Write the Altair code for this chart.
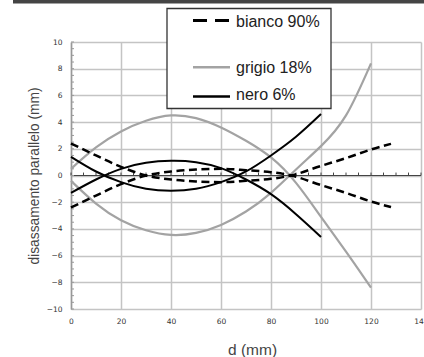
import altair as alt
import pandas as pd

# ---- data ----
x_bianco = [0, 10, 20, 30, 40, 50, 60, 70, 80, 88, 100, 110, 120, 128]
bianco_a = [2.4, 1.5, 0.65, 0.0, -0.3, -0.45, -0.5, -0.4, -0.25, 0.0, 0.72, 1.3, 1.95, 2.37]
bianco_b = [-2.4, -1.5, -0.65, 0.0, 0.3, 0.45, 0.5, 0.4, 0.25, 0.0, -0.72, -1.3, -1.95, -2.37]

x_grigio = [0, 10, 20, 30, 40, 50, 60, 70, 80, 90, 100, 110, 120]
grigio_a = [0.5, 2.1, 3.3, 4.1, 4.5, 4.3, 3.6, 2.6, 1.35, -0.55, -3.1, -5.7, -8.4]
grigio_b = [-0.4, -2.1, -3.35, -4.1, -4.45, -4.3, -3.7, -2.7, -1.3, 0.45, 2.2, 4.5, 8.4]

x_nero = [0, 10, 20, 30, 40, 50, 60, 70, 80, 90, 100]
nero_a = [1.4, 0.3, -0.5, -1.0, -1.15, -1.0, -0.5, 0.3, 1.5, 2.9, 4.6]
nero_b = [-1.3, -0.3, 0.5, 0.95, 1.1, 1.0, 0.55, -0.3, -1.4, -2.9, -4.6]

series_labels = ["bianco 90%", "grigio 18%", "nero 6%"]
x_ticks = [0, 20, 40, 60, 80, 100, 120, 140]
y_ticks = [-10, -8, -6, -4, -2, 0, 2, 4, 6, 8, 10]
x_minor = list(range(0, 145, 5))
y_minor = [v / 2 for v in range(-20, 21)]


def frame(xs, ys, curve, serie):
    return pd.DataFrame({"x": xs, "y": ys, "curve": curve, "serie": serie})


df = pd.concat([
    frame(x_bianco, bianco_a, "ba", series_labels[0]),
    frame(x_bianco, bianco_b, "bb", series_labels[0]),
    frame(x_grigio, grigio_a, "ga", series_labels[1]),
    frame(x_grigio, grigio_b, "gb", series_labels[1]),
    frame(x_nero, nero_a, "na", series_labels[2]),
    frame(x_nero, nero_b, "nb", series_labels[2]),
], ignore_index=True)

GRID = "#c4c4c4"
GRAY = "#a3a3a3"

xscale = alt.Scale(domain=[0, 140], nice=False, zero=False)
yscale = alt.Scale(domain=[-10, 10], nice=False, zero=False)

x_axis = alt.Axis(values=x_ticks, grid=True, gridColor=GRID, gridWidth=1.5,
                  domain=False, ticks=False, labelFlush=False, labelOverlap=False,
                  labelFont="DejaVu Sans", labelFontSize=7.5, labelColor="#333",
                  labelPadding=8, title="d (mm)", titleFont="Liberation Sans",
                  titleFontSize=15.5, titleFontWeight="normal", titleColor="#444",
                  titleX=181, titleY=40, titleBaseline="middle", titleAlign="center")
y_axis = alt.Axis(values=y_ticks, grid=True, gridColor=GRID, gridWidth=1.5,
                  domain=True, domainColor="#999", domainWidth=1.5, ticks=False,
                  labelOverlap=False, labelSeparation=0, labelBound=False,
                  labelFont="DejaVu Sans", labelFontSize=7.5, labelColor="#333",
                  labelPadding=9, title="disassamento parallelo (mm)",
                  titleFont="Liberation Sans", titleFontSize=13.8,
                  titleFontWeight="normal", titleColor="#444", titleAngle=-90,
                  titleX=-37, titleY=133.5, titleAlign="center",
                  titleBaseline="middle")

X = lambda f="x": alt.X(f"{f}:Q", scale=xscale, axis=x_axis)
Y = lambda f="y": alt.Y(f"{f}:Q", scale=yscale, axis=y_axis)

base = alt.Chart(df)

zero_line = alt.Chart(pd.DataFrame({"x": [0], "x2": [140], "y": [0]})).mark_rule(
    color="#444", strokeWidth=1.2).encode(x=X(), x2="x2:Q", y=Y())

xminor = alt.Chart(pd.DataFrame({"x": x_minor}).assign(y=0, y2=0.22)).mark_rule(
    color="#444", strokeWidth=1).encode(x=X(), y=Y(), y2="y2:Q")

yminor = alt.Chart(pd.DataFrame({"y": y_minor}).assign(x=0, x2=1.2)).mark_rule(
    color="#999", strokeWidth=1).encode(y=Y(), x=X(), x2="x2:Q")

def line_layer(serie, color, width, dash=None, interp="natural"):
    kw = dict(color=color, strokeWidth=width, interpolate=interp, strokeCap="butt")
    if dash:
        kw["strokeDash"] = dash
    return base.transform_filter(alt.datum.serie == serie).mark_line(**kw).encode(
        x=X(), y=Y(), detail="curve:N", order="x:Q")

lines = [
    line_layer(series_labels[1], GRAY, 2.2),
    line_layer(series_labels[2], "#000", 2.0),
    line_layer(series_labels[0], "#000", 2.5, dash=[8, 4.5], interp="monotone"),
]

# header band
header = alt.Chart(pd.DataFrame({"a": [0]})).mark_rect(color="#444").encode(
    x=alt.value(-58), x2=alt.value(353), y=alt.value(-45), y2=alt.value(-38.5))

# custom legend box
leg_box = alt.Chart(pd.DataFrame({"a": [0]})).mark_rect(
    fill="white", stroke="#333", strokeWidth=1.3).encode(
    x=alt.value(96), x2=alt.value(260), y=alt.value(-33.5), y2=alt.value(66.5))

leg_items = []
leg_styles = [("#000", 3, [14, 8], -21.5, -14.8),
              (GRAY, 2.5, None, 25.2, 30.8),
              ("#000", 2.5, None, 54.5, 57.8)]
for label, (col, w, dash, ly, ty) in zip(series_labels, leg_styles):
    kw = dict(color=col, strokeWidth=w, strokeCap="butt")
    if dash:
        kw["strokeDash"] = dash
    leg_items.append(alt.Chart(pd.DataFrame({"a": [0]})).mark_rule(**kw).encode(
        x=alt.value(122), x2=alt.value(159), y=alt.value(ly)))
    leg_items.append(alt.Chart(pd.DataFrame({"a": [0]})).mark_text(
        align="left", baseline="alphabetic", font="Liberation Sans",
        fontSize=16, color="#222").encode(
        x=alt.value(165), y=alt.value(ty), text=alt.value(label)))

chart = alt.layer(zero_line, xminor, yminor, *lines, header, leg_box,
                  *leg_items).properties(
    width=350, height=267,
    padding={"left": 71, "top": 42, "right": 3, "bottom": 48},
    autosize=alt.AutoSizeParams(type="none"),
).configure_view(stroke=None)

chart.save("out.html", embed_options={"renderer": "svg", "actions": False})
